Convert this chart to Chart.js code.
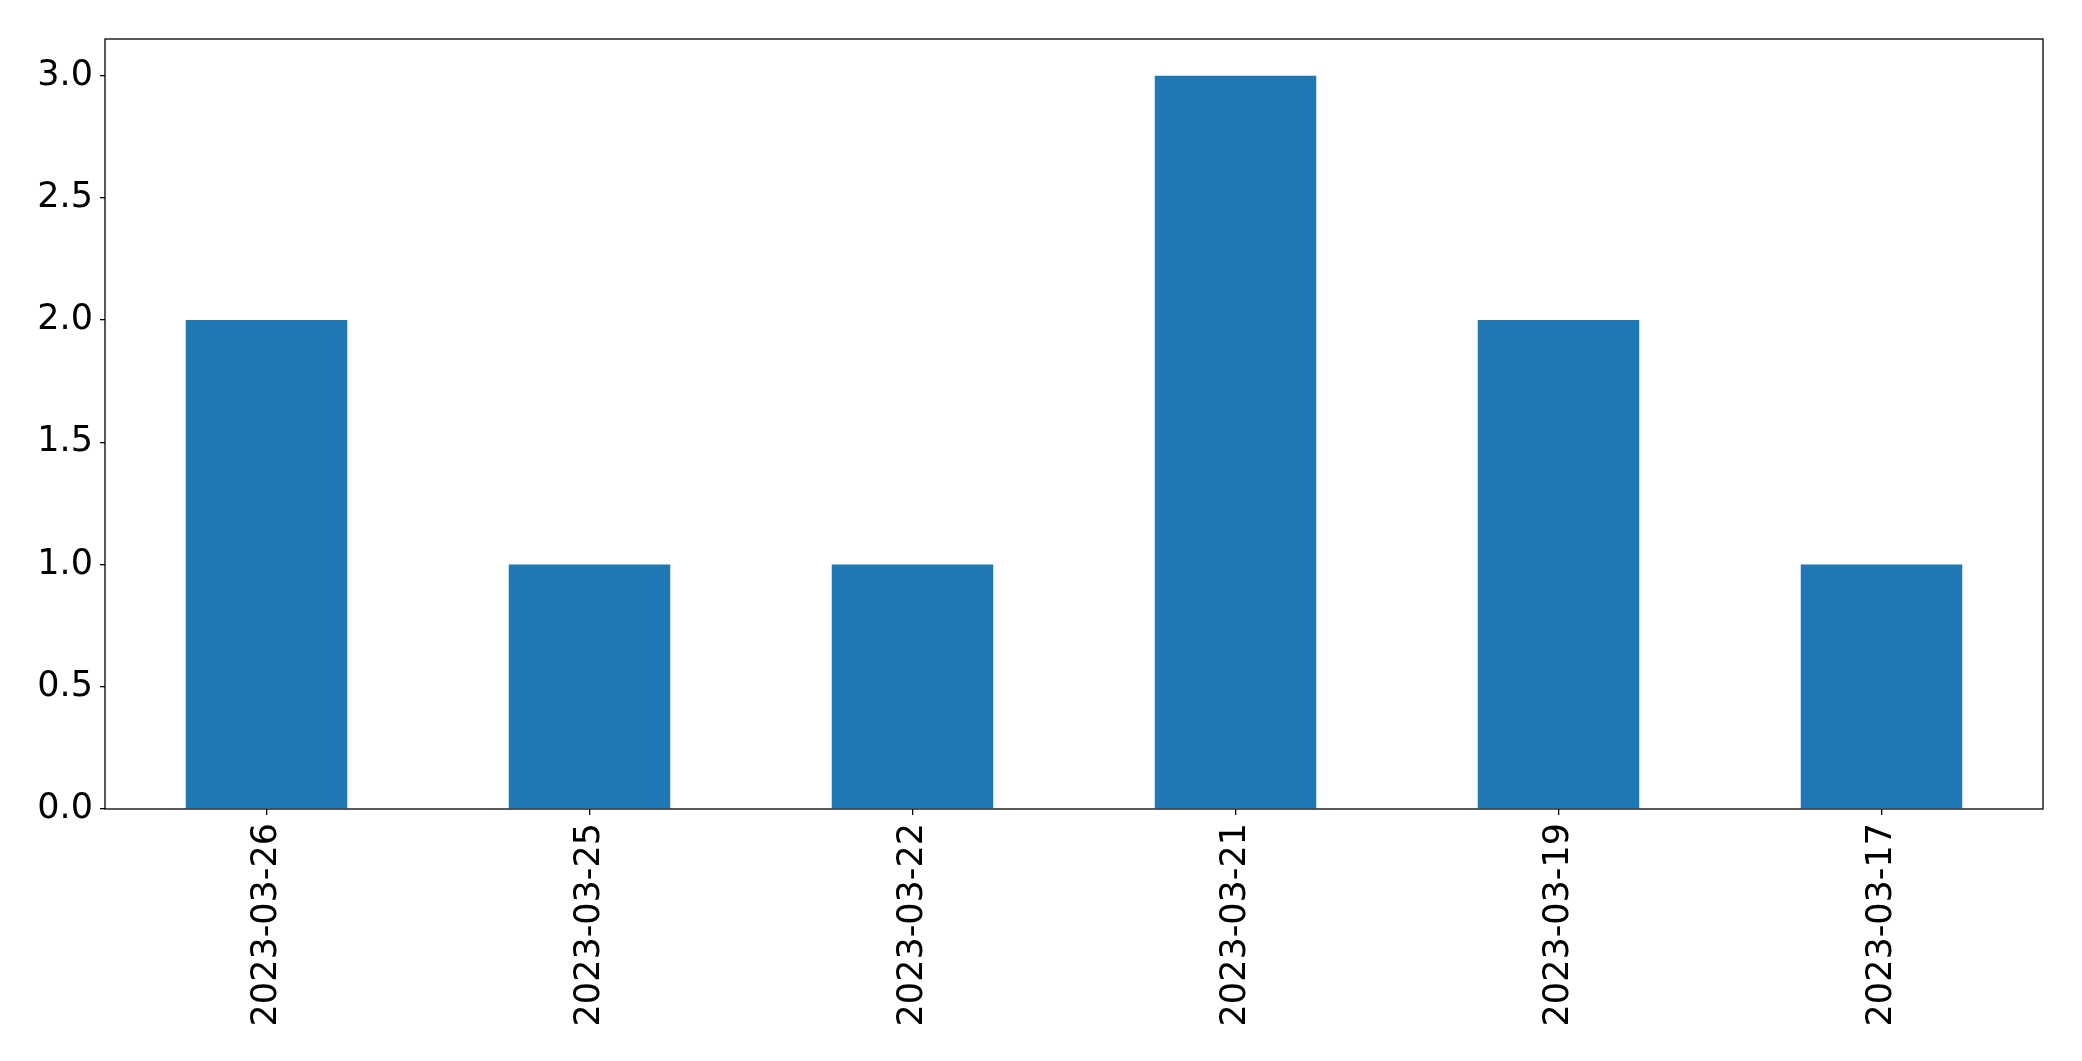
<!DOCTYPE html>
<html>
<head>
<meta charset="utf-8">
<script src="https://cdn.jsdelivr.net/npm/chart.js@4"></script>
<style>
  html, body { margin: 0; padding: 0; background: #fff; }
  #wrap { width: 2082px; height: 1061px; }
</style>
</head>
<body>
<div id="wrap"><canvas id="chart" width="2082" height="1061"></canvas></div>
<script>
const dates = ["2023-03-26", "2023-03-25", "2023-03-22", "2023-03-21", "2023-03-19", "2023-03-17"];
const counts = [2, 1, 1, 3, 2, 1];
const yTicks = [0, 0.5, 1, 1.5, 2, 2.5, 3];

// box around the plot area, like matplotlib's spines
const frame = {
  id: "frame",
  afterDraw(c) {
    const a = c.chartArea, ctx = c.ctx;
    ctx.save();
    ctx.strokeStyle = "#000";
    ctx.lineWidth = 1.3;
    ctx.strokeRect(a.left, a.top, a.right - a.left, a.bottom - a.top);
    ctx.restore();
  }
};

Chart.defaults.font.family = "'DejaVu Sans'";
Chart.defaults.font.size = 35;
Chart.defaults.color = "#000";

new Chart(document.getElementById("chart"), {
  type: "bar",
  data: {
    labels: dates,
    datasets: [{
      data: counts,
      backgroundColor: "#1f77b4",
      barPercentage: 0.5,
      categoryPercentage: 1
    }]
  },
  options: {
    responsive: false,
    animation: false,
    layout: { padding: { top: 39, right: 39, left: 0, bottom: 0 } },
    plugins: { legend: { display: false }, tooltip: { enabled: false } },
    scales: {
      x: {
        grid: { offset: false, drawOnChartArea: false, drawTicks: true, tickLength: 6, color: "#000", lineWidth: 1.3 },
        border: { display: false },
        ticks: { maxRotation: 90, minRotation: 90, padding: 8 },
        afterFit(s) { s.height = 252; }
      },
      y: {
        min: 0,
        max: 3.15,
        afterBuildTicks(s) { s.ticks = yTicks.map(v => ({ value: v })); },
        grid: { drawOnChartArea: false, drawTicks: true, tickLength: 5, color: "#000", lineWidth: 1.3 },
        border: { display: false },
        ticks: { padding: 7, callback: v => v.toFixed(1) },
        afterFit(s) { s.width = 105; }
      }
    }
  },
  plugins: [frame]
});
</script>
</body>
</html>
